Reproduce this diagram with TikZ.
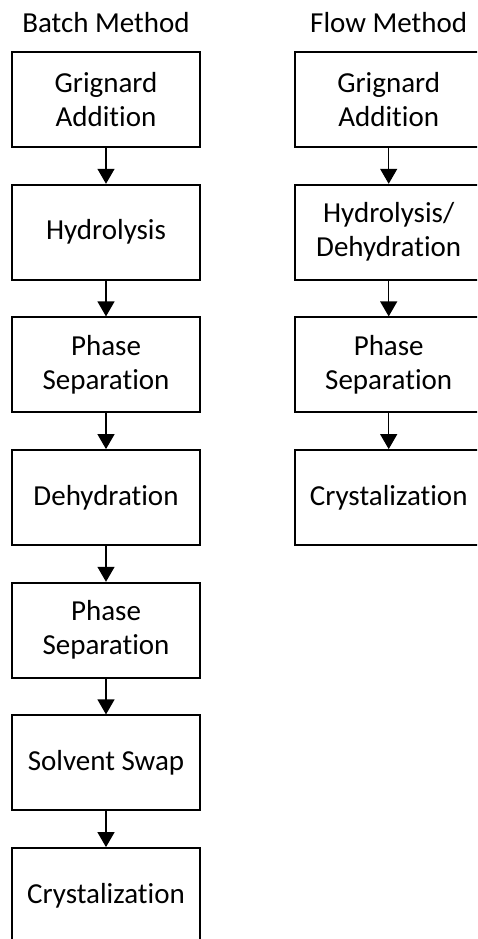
\documentclass[tikz,border=0pt]{standalone}
\usepackage{fontspec}
\setmainfont{Carlito}[Ligatures={NoCommon}]
\usetikzlibrary{arrows.meta}
\tikzset{
  stepbox/.style={draw, line width=1.8pt, rectangle, minimum width=188pt, minimum height=95pt,
    align=center, inner sep=0pt, font=\fontsize{29}{34}\selectfont},
  title/.style={font=\fontsize{29}{34}\selectfont, inner sep=0pt},
  flow/.style={line width=1.3pt, -{Triangle[width=17pt,length=15pt]}}
}
\begin{document}
\begin{tikzpicture}[x=1pt,y=-1pt]
\useasboundingbox (0,0) rectangle (477,939);
\clip (0,0) rectangle (477,939);
\node[title] (tb) at (106,23) {Batch Method};
\node[title] (tf) at (388.7,23) {Flow Method};
% batch column
\node[stepbox] (b1) at (106,99.5) {Grignard\\Addition};
\node[stepbox] (b2) at (106,232.2) {Hydrolysis};
\node[stepbox] (b3) at (106,364.8) {Phase\\Separation};
\node[stepbox] (b4) at (106,497.5) {Dehydration};
\node[stepbox] (b5) at (106,630.2) {Phase\\Separation};
\node[stepbox] (b6) at (106,762.8) {Solvent Swap};
\node[stepbox] (b7) at (106,895.5) {Crystalization};
% flow column
\node[stepbox] (f1) at (388.7,99.5) {Grignard\\Addition};
\node[stepbox] (f2) at (388.7,232.2) {Hydrolysis/\\Dehydration};
\node[stepbox] (f3) at (388.7,364.8) {Phase\\Separation};
\node[stepbox] (f4) at (388.7,497.5) {Crystalization};
\foreach \a/\b in {b1/b2,b2/b3,b3/b4,b4/b5,b5/b6,b6/b7,f1/f2,f2/f3,f3/f4}
  \draw[flow] (\a.south) -- (\b.north);
\end{tikzpicture}
\end{document}
